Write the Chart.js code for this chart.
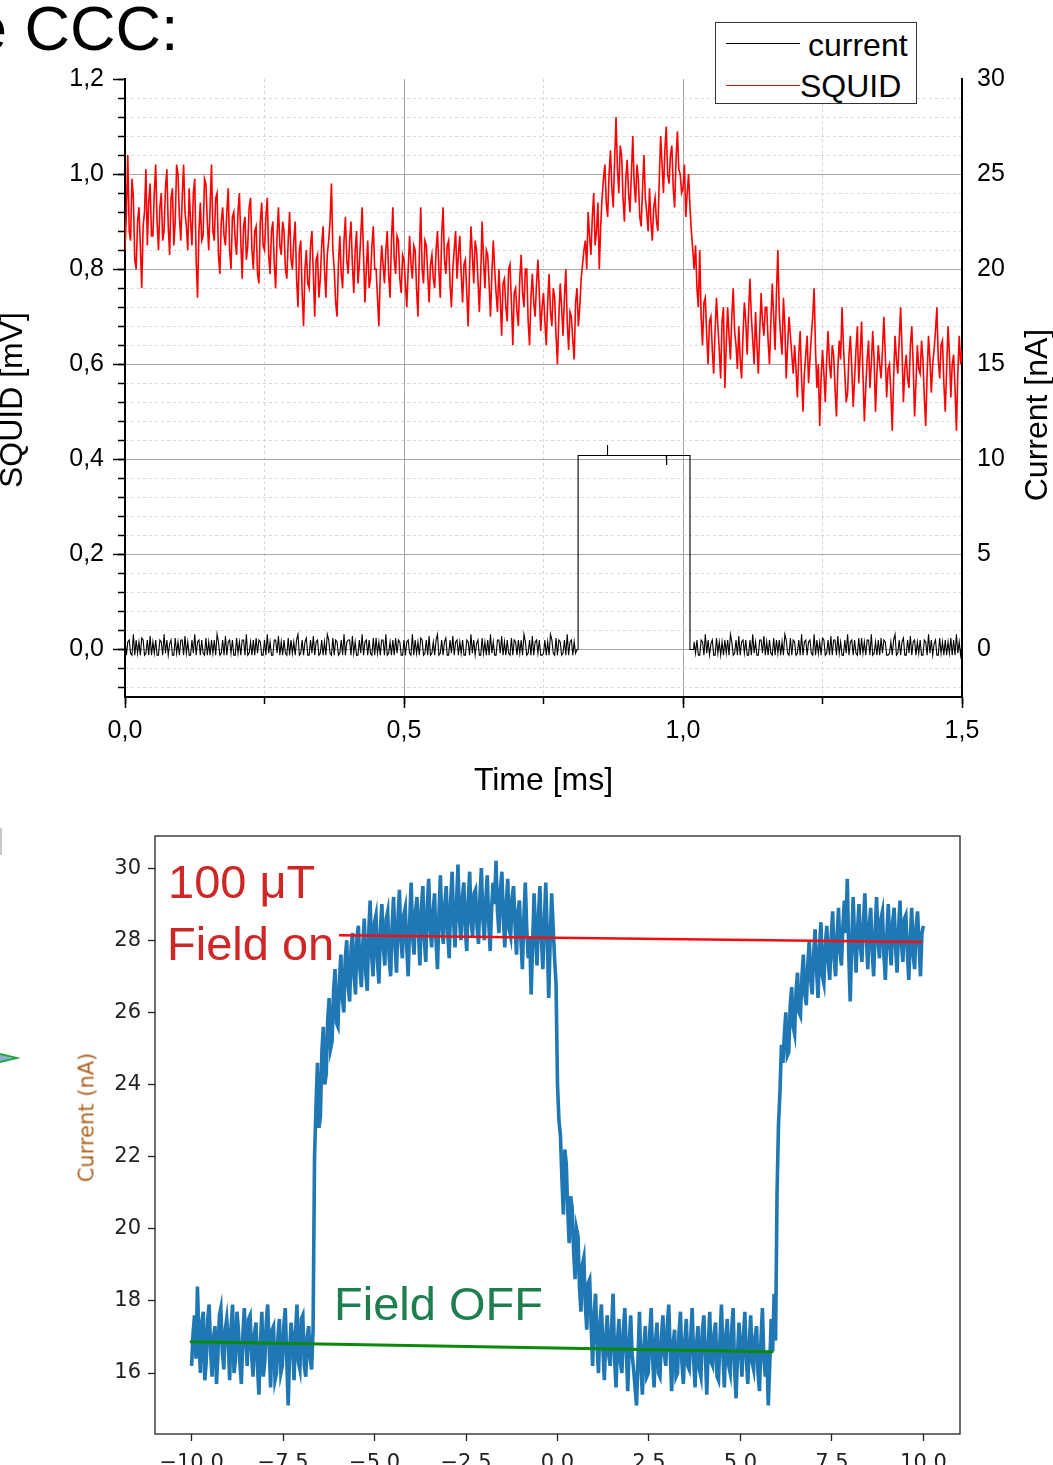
<!DOCTYPE html>
<html>
<head>
<meta charset="utf-8">
<script src="https://cdn.jsdelivr.net/npm/chart.js@4.4.1/dist/chart.umd.min.js"></script>
<style>
  html, body { margin: 0; padding: 0; background: #fff; overflow: hidden; }
  body { width: 1053px; height: 1465px; position: relative; font-family: "Liberation Sans", Arial, sans-serif; }
  .txt { position: absolute; white-space: nowrap; line-height: 1; }
  .vert { width: 300px; text-align: center; transform: rotate(-90deg); }
  canvas { position: absolute; left: 0; }
</style>
</head>
<body>
<canvas id="squid-chart" width="1053" height="800" style="top:0;width:1053px;height:800px"></canvas>
<canvas id="field-chart" width="1053" height="665" style="top:800px;width:1053px;height:665px"></canvas>

<!-- slide leftovers -->
<div class="txt" style="left:-28px;top:-3px;font-size:63px;color:#000">e CCC:</div>
<div style="position:absolute;left:0;top:828px;width:2px;height:27px;background:#c8c8c8"></div>
<div style="position:absolute;left:0;top:1053px;width:21px;height:10px;background:#1fa53c;clip-path:polygon(0 0,100% 50%,0 100%)"></div>
<div style="position:absolute;left:0;top:1055px;width:14px;height:6px;background:#8aaed0;clip-path:polygon(0 0,100% 50%,0 100%)"></div>

<!-- top chart legend -->
<div style="position:absolute;left:715px;top:22px;width:200px;height:80px;border:1px solid #333;background:#fff"></div>
<div style="position:absolute;left:726px;top:43px;width:74px;height:1px;background:#000"></div>
<div style="position:absolute;left:726px;top:85px;width:74px;height:1px;background:#ff0000"></div>
<div class="txt" style="left:808px;top:29px;font-size:32px">current</div>
<div class="txt" style="left:800px;top:70px;font-size:32px">SQUID</div>

<!-- axis titles that read bottom to top -->
<div class="txt vert" style="left:-139px;top:384px;font-size:32px">SQUID [mV]</div>
<div class="txt vert" style="left:886px;top:399px;font-size:32px">Current [nA]</div>
<div class="txt vert" style="left:-63px;top:1107px;font-size:21px;font-family:'DejaVu Sans',sans-serif;color:#ad6424">Current (nA)</div>

<!-- bottom chart annotations -->
<div class="txt" style="left:168px;top:858px;font-size:47px;color:#cf2626">100 μT</div>
<div class="txt" style="left:167px;top:920px;font-size:47px;color:#cf2626">Field on</div>
<div class="txt" style="left:334px;top:1280px;font-size:47px;color:#1e7f4e">Field OFF</div>

<script>
// ---------- top chart: SQUID signal and current pulse ----------
// SQUID voltage [mV], sampled every squidStep ms from 0
const squidStep = 0.0025;
const squidValues = [
  0.84,0.92,1.04,0.88,0.86,0.99,0.95,0.82,0.80,0.90,0.93,0.85,0.76,0.89,0.92,1.01,0.85,0.94,0.98,0.87,
  0.87,0.96,1.02,0.90,0.84,0.93,0.96,0.86,0.88,0.97,1.01,0.89,0.83,0.95,0.97,0.85,0.90,1.02,1.00,0.91,
  0.86,0.95,1.02,0.92,0.89,0.84,0.97,0.90,0.85,0.96,0.99,0.82,0.74,0.88,0.94,0.86,0.87,0.99,0.98,0.90,
  0.84,0.93,1.02,0.88,0.86,0.95,0.96,0.83,0.79,0.90,0.93,0.87,0.85,0.92,0.97,0.84,0.80,0.91,0.92,0.86,
  0.83,0.92,0.96,0.86,0.78,0.89,0.91,0.82,0.85,0.93,0.95,0.84,0.80,0.88,0.89,0.79,0.77,0.90,0.94,0.85,
  0.84,0.91,0.95,0.83,0.79,0.88,0.90,0.81,0.76,0.87,0.93,0.85,0.83,0.90,0.88,0.80,0.78,0.86,0.92,0.82,
  0.80,0.86,0.90,0.78,0.72,0.84,0.86,0.75,0.68,0.80,0.84,0.77,0.76,0.85,0.88,0.79,0.70,0.82,0.83,0.74,
  0.78,0.85,0.89,0.80,0.74,0.83,0.86,0.90,0.98,0.84,0.80,0.73,0.70,0.81,0.87,0.79,0.76,0.86,0.91,0.82,
  0.79,0.86,0.90,0.81,0.75,0.84,0.88,0.77,0.81,0.87,0.93,0.83,0.73,0.80,0.86,0.76,0.78,0.85,0.89,0.80,
  0.80,0.74,0.68,0.79,0.85,0.81,0.77,0.84,0.88,0.79,0.74,0.86,0.93,0.82,0.79,0.87,0.86,0.78,0.75,0.83,
  0.82,0.77,0.72,0.80,0.87,0.81,0.78,0.85,0.84,0.76,0.70,0.83,0.93,0.80,0.77,0.86,0.85,0.79,0.73,0.81,
  0.83,0.78,0.76,0.84,0.88,0.80,0.74,0.87,0.93,0.82,0.79,0.85,0.86,0.77,0.72,0.80,0.84,0.88,0.78,0.83,
  0.87,0.79,0.73,0.81,0.82,0.75,0.68,0.80,0.89,0.83,0.77,0.86,0.84,0.78,0.71,0.79,0.90,0.82,0.76,0.84,
  0.83,0.77,0.70,0.79,0.86,0.80,0.75,0.71,0.80,0.74,0.66,0.77,0.78,0.72,0.69,0.80,0.81,0.73,0.64,0.75,
  0.76,0.71,0.68,0.78,0.83,0.75,0.72,0.80,0.80,0.69,0.64,0.74,0.79,0.73,0.70,0.77,0.82,0.75,0.67,0.72,
  0.75,0.69,0.64,0.73,0.79,0.71,0.68,0.76,0.74,0.66,0.60,0.70,0.77,0.72,0.66,0.74,0.80,0.69,0.63,0.71,
  0.70,0.65,0.61,0.73,0.76,0.68,0.72,0.78,0.81,0.84,0.86,0.80,0.92,0.87,0.83,0.91,0.96,0.85,0.88,0.94,
  0.80,0.89,0.95,0.99,1.02,0.94,0.91,1.00,1.05,0.97,0.93,1.03,1.12,1.01,0.96,1.06,1.04,0.95,0.90,0.99,
  1.03,0.96,0.92,1.00,1.08,0.98,0.94,1.02,0.99,0.91,0.89,0.97,1.04,0.95,0.92,0.88,0.97,0.90,0.86,0.93,
  0.95,0.90,0.88,0.99,1.08,1.02,0.96,1.05,1.10,1.00,0.98,1.04,1.06,0.97,0.93,1.03,1.09,1.01,1.00,0.96,
  0.97,1.02,0.91,0.96,1.00,0.93,0.88,0.84,0.80,0.85,0.76,0.72,0.84,0.70,0.64,0.73,0.74,0.66,0.60,0.69,
  0.70,0.63,0.58,0.67,0.74,0.68,0.63,0.57,0.69,0.72,0.55,0.64,0.72,0.66,0.61,0.70,0.76,0.67,0.64,0.59,
  0.68,0.61,0.57,0.66,0.73,0.69,0.62,0.71,0.78,0.70,0.65,0.60,0.71,0.64,0.58,0.67,0.75,0.69,0.66,0.72,
  0.72,0.65,0.60,0.69,0.77,0.70,0.63,0.75,0.84,0.71,0.66,0.62,0.74,0.68,0.57,0.64,0.70,0.66,0.62,0.58,
  0.64,0.59,0.53,0.62,0.67,0.57,0.50,0.58,0.62,0.66,0.56,0.61,0.66,0.70,0.76,0.63,0.55,0.60,0.47,0.57,
  0.63,0.58,0.52,0.61,0.67,0.60,0.57,0.64,0.62,0.55,0.49,0.59,0.65,0.61,0.72,0.64,0.58,0.52,0.54,0.62,
  0.66,0.59,0.51,0.57,0.63,0.68,0.56,0.62,0.69,0.58,0.48,0.55,0.61,0.65,0.55,0.60,0.67,0.61,0.50,0.58,
  0.64,0.60,0.57,0.63,0.70,0.62,0.53,0.59,0.60,0.54,0.46,0.57,0.66,0.61,0.58,0.65,0.72,0.63,0.52,0.59,
  0.62,0.57,0.55,0.64,0.68,0.60,0.49,0.56,0.64,0.59,0.58,0.65,0.61,0.53,0.47,0.58,0.66,0.61,0.54,0.60,
  0.63,0.67,0.72,0.61,0.57,0.64,0.65,0.56,0.50,0.59,0.68,0.62,0.53,0.60,0.62,0.55,0.46,0.58,0.66,0.60,
  0.63
];

// current [nA]: noisy baseline before the pulse, the pulse itself, baseline after
const noiseStep = 0.0025;
const currentNoiseA = [
  0.5,-0.3,0.4,0.5,-0.2,-0.3,0.8,-0.3,0.5,-0.2,0.4,-0.3,0.6,0.5,-0.3,-0.2,0.5,-0.3,0.7,-0.3,
  0.4,-0.2,0.5,-0.3,-0.3,0.5,0.4,-0.3,0.8,-0.2,0.5,-0.3,0.3,0.5,-0.3,-0.3,0.6,-0.2,0.4,-0.3,
  0.5,0.5,-0.3,0.7,-0.2,0.4,-0.3,-0.3,0.5,-0.2,0.8,-0.3,0.4,0.5,-0.3,0.5,-0.2,-0.3,0.6,-0.3,
  0.4,-0.3,0.5,-0.2,0.5,-0.3,0.8,0.4,-0.3,-0.2,0.5,-0.3,0.7,-0.3,0.4,0.5,-0.2,0.5,-0.3,-0.3,
  0.6,-0.2,0.4,-0.3,0.5,0.5,-0.3,0.8,-0.3,-0.2,0.4,-0.3,0.5,-0.3,0.6,-0.2,0.5,0.4,-0.3,-0.3,
  0.5,-0.3,0.8,-0.2,0.4,-0.3,-0.3,0.5,0.5,-0.2,0.7,-0.3,0.4,-0.3,0.5,-0.2,-0.3,0.6,-0.3,0.5,
  -0.2,0.4,-0.3,0.5,0.8,-0.3,-0.2,0.5,-0.3,0.4,0.6,-0.3,-0.3,0.5,-0.2,0.7,-0.3,0.4,0.5,-0.3,
  -0.2,0.5,-0.3,0.4,-0.3,0.8,0.5,-0.2,-0.3,0.6,-0.3,0.5,0.4,-0.3,-0.2,0.5,-0.3,0.8,-0.3,0.4,
  0.5,0.5,-0.3,0.7,-0.2,0.4,-0.3,-0.3,0.5,-0.2,0.8,-0.3,0.4,0.5,-0.3,0.5,-0.2,-0.3,0.6,-0.3,
  0.6,-0.2,0.4,-0.3,0.5,0.5,-0.3,0.8,-0.3,-0.2,0.4,-0.3,0.5,-0.3,0.6,-0.2,0.5,0.4,-0.3,-0.3,
  0.5,-0.3,0.4,0.5,-0.2,-0.3,0.8,-0.3,0.5,-0.2,0.4,-0.3,0.6,0.5,-0.3,-0.2,0.5,-0.3,0.7,-0.3,
  -0.2,0.4,-0.3,0.5,0.8,-0.3,-0.2,0.5,-0.3,0.4,0.6,-0.3,-0.3,0.5,-0.2,0.7,-0.3,0.4,0.5,-0.3,
  0.4,-0.2,0.5,-0.3,-0.3,0.5,0.4,-0.3,0.8,-0.2,0.5,-0.3,0.3,0.5,-0.3,-0.3,0.6,-0.2,0.4,-0.3,
  0.5,-0.3,0.8,-0.2,0.4,-0.3,-0.3,0.5,0.5,-0.2,0.7,-0.3,0.4,-0.3,0.5,-0.2,-0.3,0.6,-0.3,0.5,
  0.4,-0.3,0.5,-0.2,0.5,-0.3,0.8,0.4,-0.3,-0.2,0.5,-0.3,0.7,-0.3,0.4,0.5,-0.2,0.5,-0.3,-0.3,
  -0.2,0.5,-0.3,0.4,-0.3,0.8,0.5,-0.2,-0.3,0.6,-0.3,0.5,0.4,-0.3,-0.2,0.5,-0.3,0.8,-0.3,0.4,
  0.5,-0.3,0.4,-0.2,0.0
];
const currentPulseT = [0.812, 0.812, 0.864, 0.8645, 0.865, 0.970, 0.9705, 0.971, 1.0125, 1.0125, 1.019];
const currentPulseV = [0, 10.2, 10.2, 10.75, 10.2, 10.2, 9.7, 10.2, 10.2, 0, 0];
const noiseBStart = 1.02;
const currentNoiseB = [
  0.4,-0.2,0.5,-0.3,-0.3,0.5,0.4,-0.3,0.8,-0.2,0.5,-0.3,0.3,0.5,-0.3,-0.3,0.6,-0.2,0.4,-0.3,
  0.4,-0.3,0.5,-0.2,0.5,-0.3,0.8,0.4,-0.3,-0.2,0.5,-0.3,0.7,-0.3,0.4,0.5,-0.2,0.5,-0.3,-0.3,
  0.5,-0.3,0.8,-0.2,0.4,-0.3,-0.3,0.5,0.5,-0.2,0.7,-0.3,0.4,-0.3,0.5,-0.2,-0.3,0.6,-0.3,0.5,
  -0.2,0.5,-0.3,0.4,-0.3,0.8,0.5,-0.2,-0.3,0.6,-0.3,0.5,0.4,-0.3,-0.2,0.5,-0.3,0.8,-0.3,0.4,
  0.5,-0.3,0.4,0.5,-0.2,-0.3,0.8,-0.3,0.5,-0.2,0.4,-0.3,0.6,0.5,-0.3,-0.2,0.5,-0.3,0.7,-0.3,
  0.5,0.5,-0.3,0.7,-0.2,0.4,-0.3,-0.3,0.5,-0.2,0.8,-0.3,0.4,0.5,-0.3,0.5,-0.2,-0.3,0.6,-0.3,
  0.6,-0.2,0.4,-0.3,0.5,0.5,-0.3,0.8,-0.3,-0.2,0.4,-0.3,0.5,-0.3,0.6,-0.2,0.5,0.4,-0.3,-0.3,
  -0.2,0.4,-0.3,0.5,0.8,-0.3,-0.2,0.5,-0.3,0.4,0.6,-0.3,-0.3,0.5,-0.2,0.7,-0.3,0.4,0.5,-0.3,
  0.4,-0.2,0.5,-0.3,-0.3,0.5,0.4,-0.3,0.8,-0.2,0.5,-0.3,0.3,0.5,-0.3,-0.3,0.6,-0.2,0.4,-0.3,
  0.5,-0.3,0.4,-0.2,0.6,-0.3,0.5,-0.3,0.8,-0.2,0.4,-0.3,0.3
];

// ---------- bottom chart: field on / off ----------
// current [nA], sampled every blueStep from blueStart
const blueStart = -10;
const blueStep = 0.04;
const blueValues = [
  16.2,17.1,17.6,16.4,18.4,17.0,16.0,17.4,17.7,15.8,16.3,17.5,17.9,16.6,15.9,17.0,17.3,15.7,16.5,17.6,
  17.8,16.6,16.1,17.2,17.5,16.9,15.8,17.3,17.9,16.0,16.4,17.7,17.2,16.3,15.7,17.0,17.8,16.9,16.2,17.5,
  17.6,16.5,15.9,17.1,17.4,16.2,15.4,16.8,17.7,15.9,16.3,17.4,17.9,16.7,15.6,17.2,17.3,15.8,16.0,17.0,
  17.5,16.0,16.2,17.3,17.8,16.4,15.1,16.6,17.4,16.9,15.8,17.1,17.9,16.3,16.1,17.5,17.6,16.2,15.9,17.0,
  17.3,16.4,16.1,17.2,22.0,23.4,24.6,22.8,23.1,24.9,25.6,24.0,24.3,25.8,26.4,25.0,25.2,26.6,27.2,25.7,
  25.6,26.9,27.6,26.4,26.0,27.5,28.0,26.7,26.3,27.8,28.2,27.0,26.5,28.1,28.4,27.2,26.7,27.9,28.6,27.1,
  26.6,28.2,29.1,27.6,27.0,28.5,28.7,27.4,26.8,28.3,29.0,27.8,27.3,28.6,28.8,27.5,27.0,28.4,29.2,27.9,
  27.1,28.6,29.4,28.0,27.5,28.7,28.9,27.8,27.0,28.5,29.6,28.1,27.6,28.8,29.2,28.2,27.3,28.9,29.5,28.0,
  27.4,28.9,29.7,28.3,27.8,28.8,29.3,28.0,27.2,28.7,29.8,28.4,27.9,29.0,29.5,28.2,27.5,29.1,29.9,28.5,
  27.8,29.0,30.1,28.6,28.0,29.2,29.6,28.3,27.7,29.1,29.9,28.5,28.1,29.3,29.4,28.4,27.9,29.2,30.0,28.6,
  28.0,29.1,29.8,28.5,27.7,28.9,29.6,29.0,30.2,28.8,28.2,29.4,29.9,28.6,27.8,29.0,29.7,28.3,28.1,29.2,
  29.5,28.4,27.6,28.8,29.1,28.0,27.2,28.6,29.6,28.3,27.5,28.1,26.5,27.9,29.3,28.2,27.3,28.7,29.5,28.0,
  27.2,28.5,29.6,28.1,26.4,28.0,29.3,28.4,27.5,26.8,24.0,23.0,22.6,21.4,20.4,22.2,21.8,20.5,19.6,20.9,
  20.6,19.4,18.6,20.0,19.8,18.4,17.7,19.0,19.2,17.9,17.2,18.5,18.6,17.3,16.2,17.6,18.2,16.8,16.0,17.4,
  17.9,16.7,15.8,17.0,17.6,16.5,16.2,17.3,18.2,16.4,15.6,16.9,17.5,16.3,16.0,17.2,17.8,16.6,15.5,16.8,
  17.6,16.5,16.1,15.6,15.1,16.4,17.7,16.2,15.4,16.7,17.3,15.9,16.0,17.1,17.8,16.4,15.6,16.9,17.4,16.0,
  15.9,17.0,17.6,16.5,16.2,17.3,17.9,16.6,15.5,16.8,17.2,15.9,16.0,17.1,17.7,16.3,15.7,16.9,17.5,16.2,
  16.1,17.0,17.8,16.4,15.6,16.8,17.3,16.1,15.9,17.2,17.6,16.5,15.4,16.7,17.7,16.3,16.2,17.1,17.4,15.9,
  15.8,16.9,17.9,16.6,15.6,17.0,17.5,16.2,16.0,17.2,17.8,16.1,15.3,16.5,17.4,16.7,15.9,17.0,17.7,16.4,
  15.7,16.8,17.6,16.3,16.1,17.0,17.3,16.0,15.5,16.9,17.8,16.4,15.9,16.6,15.1,16.2,17.5,16.6,18.2,16.9,
  21.0,22.9,23.8,25.1,24.6,25.4,26.0,24.8,24.9,26.2,26.7,25.6,25.4,26.6,27.1,26.0,25.9,27.0,27.6,26.5,
  26.2,27.3,28.0,26.9,26.5,27.6,28.3,27.2,26.4,27.8,28.5,27.0,26.8,27.9,28.4,27.4,26.9,28.1,28.8,27.5,
  27.0,28.1,28.9,27.7,27.3,28.4,29.1,28.2,29.7,27.6,26.3,27.9,29.2,28.0,27.1,28.3,29.0,27.8,27.4,28.5,
  29.3,28.1,27.2,28.4,28.9,27.7,27.0,28.2,29.2,28.0,27.5,28.6,28.8,27.6,26.9,28.1,29.0,27.9,27.3,28.5,
  28.9,27.8,27.1,28.3,29.1,27.9,27.4,28.6,28.7,27.7,26.9,28.0,28.9,27.6,27.2,28.4,28.8,27.9,27.0,28.2,
  28.4
];
// straight guide lines drawn over the trace
const fieldOnLineX = [-5.97, 9.97];
const fieldOnLineY = [28.14, 27.95];
const fieldOffLineX = [-10.05, 5.9];
const fieldOffLineY = [16.87, 16.59];

const sansFont = "'Liberation Sans', Arial, sans-serif";
const mplFont = "'DejaVu Sans', sans-serif";

function commaLabel(v) {
  return v.toFixed(1).replace('.', ',');
}
function isMultiple(v, step) {
  var q = v / step;
  return Math.abs(q - Math.round(q)) < 1e-6;
}

var squidPoints = squidValues.map((v, i) => ({x: i * squidStep, y: v}));
var currentPoints = currentNoiseA.map((v, i) => ({x: i * noiseStep, y: v}))
  .concat(currentPulseT.map((t, i) => ({x: t, y: currentPulseV[i]})))
  .concat(currentNoiseB.map((v, i) => ({x: noiseBStart + i * noiseStep, y: v})));

new Chart(document.getElementById('squid-chart'), {
  type: 'line',
  data: {
    datasets: [
      {
        label: 'current',
        data: currentPoints,
        xAxisID: 'x', yAxisID: 'y2',
        borderColor: '#000', borderWidth: 1.1,
        pointRadius: 0, tension: 0
      },
      {
        label: 'SQUID',
        data: squidPoints,
        xAxisID: 'x', yAxisID: 'y',
        borderColor: '#ff0000', borderWidth: 1.6,
        pointRadius: 0, tension: 0
      }
    ]
  },
  options: {
    responsive: false,
    animation: false,
    events: [],
    layout: { padding: { top: 79, left: 0, right: 0, bottom: 0 } },
    plugins: { legend: { display: false }, tooltip: { enabled: false } },
    scales: {
      x: {
        type: 'linear', axis: 'x', position: 'bottom', weight: 1,
        min: 0, max: 1.5,
        ticks: { stepSize: 0.5, includeBounds: false, autoSkip: false, maxRotation: 0, padding: 8,
                 color: '#000', font: { family: sansFont, size: 25 }, callback: commaLabel },
        grid: { color: '#a6a6a6', lineWidth: 1, tickLength: 11, tickColor: '#000', tickWidth: 1.5 },
        border: { color: '#000', width: 2 },
        title: { display: true, text: 'Time [ms]', color: '#000',
                 font: { family: sansFont, size: 32 }, padding: { top: 0, bottom: 0 } },
        afterFit: (s) => { s.height = 103; }
      },
      xMinor: {
        type: 'linear', axis: 'x', position: 'bottom', weight: 0,
        min: 0, max: 1.5,
        ticks: { stepSize: 0.25, includeBounds: false, display: false },
        grid: {
          color: (c) => (c.tick && isMultiple(c.tick.value, 0.5)) ? 'rgba(0,0,0,0)' : '#d6d6d6',
          tickLength: 7, tickColor: '#000', tickWidth: 1.5
        },
        border: { display: false, dash: [3, 3] },
        afterFit: (s) => { s.height = 0; }
      },
      y: {
        type: 'linear', axis: 'y', position: 'left', weight: 1,
        min: -0.1, max: 1.2,
        ticks: { stepSize: 0.2, includeBounds: false, autoSkip: false, padding: 9,
                 color: '#000', font: { family: sansFont, size: 25 }, callback: commaLabel },
        grid: {
          color: (c) => (c.tick && c.tick.value > 1.19) ? 'rgba(0,0,0,0)' : '#a6a6a6',
          lineWidth: 1, tickLength: 12, tickColor: '#000', tickWidth: 1.5
        },
        border: { color: '#000', width: 2 },
        afterFit: (s) => { s.width = 125; }
      },
      yMinor: {
        type: 'linear', axis: 'y', position: 'left', weight: 0,
        min: -0.1, max: 1.2,
        ticks: { stepSize: 0.04, includeBounds: false, display: false },
        grid: {
          color: (c) => (c.tick && (isMultiple(c.tick.value, 0.2) || c.tick.value > 1.19)) ? 'rgba(0,0,0,0)' : '#d9d9d9',
          tickLength: 7, tickColor: '#000', tickWidth: 1.5
        },
        border: { display: false, dash: [3, 3] },
        afterFit: (s) => { s.width = 0; }
      },
      y2: {
        type: 'linear', axis: 'y', position: 'right',
        min: -2.5, max: 30,
        ticks: { stepSize: 5, includeBounds: false, autoSkip: false, padding: 15,
                 color: '#000', font: { family: sansFont, size: 25 } },
        grid: { drawOnChartArea: false, drawTicks: false },
        border: { color: '#000', width: 2 },
        afterFit: (s) => { s.width = 91; }
      }
    }
  }
});

// ---------- bottom chart ----------
const frameBox = {
  id: 'frameBox',
  afterDatasetsDraw(chart) {
    const a = chart.chartArea;
    const ctx = chart.ctx;
    ctx.save();
    ctx.strokeStyle = '#222';
    ctx.lineWidth = 1.3;
    ctx.strokeRect(a.left, a.top, a.right - a.left, a.bottom - a.top);
    ctx.restore();
  }
};

var bluePoints = blueValues.map((v, i) => ({x: blueStart + i * blueStep, y: v}));

function minusLabel(v) {
  return (v < 0 ? '\u2212' : '') + Math.abs(v).toFixed(1);
}

new Chart(document.getElementById('field-chart'), {
  type: 'line',
  data: {
    datasets: [
      {
        data: fieldOnLineX.map((x, i) => ({x: x, y: fieldOnLineY[i]})),
        borderColor: '#f01010', borderWidth: 2.5, pointRadius: 0
      },
      {
        data: fieldOffLineX.map((x, i) => ({x: x, y: fieldOffLineY[i]})),
        borderColor: '#0a8a0a', borderWidth: 3, pointRadius: 0
      },
      {
        data: bluePoints,
        borderColor: '#1f77b4', borderWidth: 3.6, pointRadius: 0, tension: 0
      }
    ]
  },
  options: {
    responsive: false,
    animation: false,
    events: [],
    layout: { padding: { top: 36, left: 0, right: 93, bottom: 0 } },
    plugins: { legend: { display: false }, tooltip: { enabled: false } },
    scales: {
      x: {
        type: 'linear', min: -11, max: 11,
        ticks: { stepSize: 2.5, includeBounds: false, autoSkip: false, maxRotation: 0, padding: 10,
                 color: '#222', font: { family: mplFont, size: 21 }, callback: minusLabel },
        grid: { display: true, drawOnChartArea: false, tickLength: 7, tickColor: '#222', tickWidth: 1.3 },
        border: { display: false },
        afterFit: (s) => { s.height = 31; }
      },
      y: {
        type: 'linear', min: 14.31, max: 30.89,
        ticks: { stepSize: 2, includeBounds: false, autoSkip: false, padding: 7,
                 color: '#222', font: { family: mplFont, size: 21 } },
        grid: { display: true, drawOnChartArea: false, tickLength: 7, tickColor: '#222', tickWidth: 1.3 },
        border: { display: false },
        afterFit: (s) => { s.width = 155; }
      }
    }
  },
  plugins: [frameBox]
});
</script>
</body>
</html>
